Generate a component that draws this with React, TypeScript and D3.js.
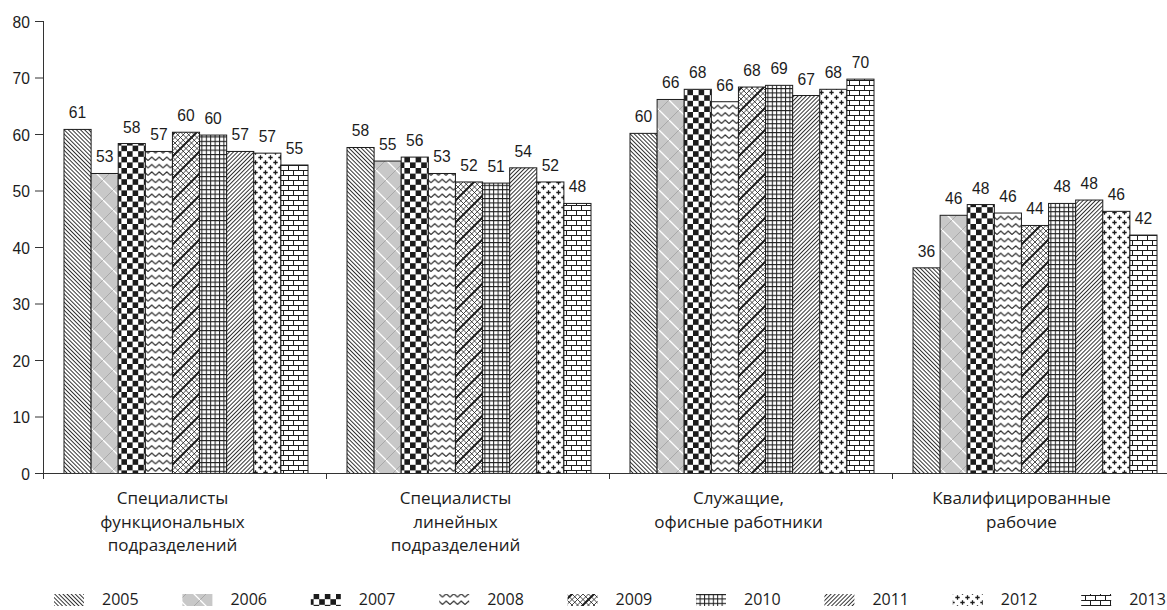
import React from "react";
import * as d3 from "d3";

// Share of respondents by staff group, per survey year
const years = ["2005", "2006", "2007", "2008", "2009", "2010", "2011", "2012", "2013"];
const categoryLines = [
  ["Специалисты", "функциональных", "подразделений"],
  ["Специалисты", "линейных", "подразделений"],
  ["Служащие,", "офисные работники"],
  ["Квалифицированные", "рабочие"],
];
const functionalSpecialists = [60.9, 53.1, 58.4, 57.0, 60.4, 59.9, 57.0, 56.7, 54.6];
const lineSpecialists = [57.7, 55.3, 56.0, 53.1, 51.6, 51.4, 54.1, 51.6, 47.8];
const officeEmployees = [60.2, 66.2, 68.0, 65.8, 68.4, 68.7, 66.9, 68.0, 69.8];
const skilledWorkers = [36.4, 45.7, 47.6, 46.1, 43.9, 47.8, 48.4, 46.4, 42.2];
const yTicks = [0, 10, 20, 30, 40, 50, 60, 70, 80];

const seriesByCategory = [functionalSpecialists, lineSpecialists, officeEmployees, skilledWorkers];

const W = 1167;
const H = 610;
const INK = "#1c1c1c";
const NUM_FONT = "'Liberation Sans', Arial, sans-serif";
const TXT_FONT = "'Open Sans', 'Noto Sans', sans-serif";
const NUM_SQUEEZE = 0.92;

// diagonal line families inside a square tile, seamless when size is a multiple of step
function diagLines(size: number, step: number, dir: "back" | "fwd") {
  const out: string[] = [];
  if (dir === "back") {
    for (let c = -size; c <= size; c += step) out.push(`M${c},0L${c + size},${size}`);
  } else {
    for (let c = 0; c <= 2 * size; c += step) out.push(`M${c},0L${c - size},${size}`);
  }
  return out.join("");
}

function Patterns() {
  const t2006 = 20;
  const t2009 = 22;
  return (
    <defs>
      <pattern id="p2005" patternUnits="userSpaceOnUse" width={2.9} height={10} patternTransform="rotate(-45)">
        <rect width={2.9} height={10} fill="#fff" />
        <line x1={1.45} y1={0} x2={1.45} y2={10} stroke={INK} strokeWidth={0.9} />
      </pattern>
      <pattern id="p2006" patternUnits="userSpaceOnUse" width={t2006} height={t2006}>
        <rect width={t2006} height={t2006} fill="#e9e9e9" />
        <path d={diagLines(t2006, 2, "back") + diagLines(t2006, 2, "fwd")} stroke="#a6a6a6" strokeWidth={0.5} fill="none" />
        <path d={`M0,0L${t2006},${t2006}M-2,${t2006 - 2}L2,${t2006 + 2}M${t2006 - 2},-2L${t2006 + 2},2`} stroke="#fff" strokeWidth={1.3} />
        <path d={`M${t2006},0L0,${t2006}M-2,2L2,-2M${t2006 - 2},${t2006 + 2}L${t2006 + 2},${t2006 - 2}`} stroke="#888" strokeWidth={0.5} />
      </pattern>
      <pattern id="p2007" patternUnits="userSpaceOnUse" width={11.2} height={11.2}>
        <rect width={11.2} height={11.2} fill="#fff" />
        <rect width={5.6} height={5.6} fill={INK} />
        <rect x={5.6} y={5.6} width={5.6} height={5.6} fill={INK} />
      </pattern>
      <pattern id="p2008" patternUnits="userSpaceOnUse" width={7.5} height={7.4}>
        <rect width={7.5} height={7.4} fill="#fff" />
        <path d="M0,5.2L3.75,1.6L7.5,5.2" stroke={INK} strokeWidth={1.1} fill="none" />
      </pattern>
      <pattern id="p2009" patternUnits="userSpaceOnUse" width={t2009} height={t2009}>
        <rect width={t2009} height={t2009} fill="#fff" />
        <path d={diagLines(t2009, 5.5, "back") + diagLines(t2009, 5.5, "fwd")} stroke={INK} strokeWidth={0.8} fill="none" />
        <path d={`M${t2009},0L0,${t2009}M-3,3L3,-3M${t2009 - 3},${t2009 + 3}L${t2009 + 3},${t2009 - 3}`} stroke={INK} strokeWidth={2} />
      </pattern>
      <pattern id="p2010" patternUnits="userSpaceOnUse" width={4.4} height={4.4}>
        <rect width={4.4} height={4.4} fill="#fff" />
        <path d="M0.5,0V4.4M0,0.5H4.4" stroke={INK} strokeWidth={1} fill="none" />
      </pattern>
      <pattern id="p2011" patternUnits="userSpaceOnUse" width={2.9} height={10} patternTransform="rotate(45)">
        <rect width={2.9} height={10} fill="#fff" />
        <line x1={1.45} y1={0} x2={1.45} y2={10} stroke={INK} strokeWidth={0.9} />
      </pattern>
      <pattern id="p2012" patternUnits="userSpaceOnUse" width={10} height={10}>
        <rect width={10} height={10} fill="#fff" />
        <path d="M2.5,0.3V4.7M0.3,2.5H4.7M7.5,5.3V9.7M5.3,7.5H9.7" stroke={INK} strokeWidth={1.3} fill="none" />
      </pattern>
      <pattern id="p2013" patternUnits="userSpaceOnUse" width={10} height={10}>
        <rect width={10} height={10} fill="#fff" />
        <path d="M0,0.5H10M0,5.5H10M0.5,0.5V5.5M5.5,5.5V10" stroke={INK} strokeWidth={1} fill="none" />
      </pattern>
    </defs>
  );
}

function Num({ x, y, anchor, children }: { x: number; y: number; anchor: string; children: React.ReactNode }) {
  return (
    <text
      transform={`translate(${x},${y}) scale(${NUM_SQUEEZE},1)`}
      textAnchor={anchor}
      fontFamily={NUM_FONT}
      fontSize={17}
      fill={INK}
    >
      {children}
    </text>
  );
}

export default function App() {
  const x0 = d3.scaleBand<number>().domain(d3.range(categoryLines.length)).range([43, 1175]);
  const x1 = d3.scaleBand<string>().domain(years).range([21, 265]);
  const y = d3.scaleLinear().domain([0, 80]).range([473.5, 21.5]);
  const fmt = d3.format(".0f");
  const axisBottom = y(0);

  return (
    <svg width={W} height={H} style={{ position: "absolute", left: 0, top: 0, background: "#fff" }}>
      <Patterns />
      <rect width={W} height={H} fill="#fff" />

      {/* bars */}
      {seriesByCategory.map((vals, ci) => (
        <g key={ci} transform={`translate(${x0(ci)},0)`}>
          {vals.map((v, yi) => (
            <rect
              key={yi}
              x={x1(years[yi])}
              y={y(v)}
              width={x1.bandwidth()}
              height={axisBottom - y(v)}
              fill={`url(#p${years[yi]})`}
              stroke={INK}
              strokeWidth={1}
            />
          ))}
          {vals.map((v, yi) => (
            <Num key={"l" + yi} x={(x1(years[yi]) as number) + x1.bandwidth() / 2} y={y(v) - 11} anchor="middle">
              {fmt(v)}
            </Num>
          ))}
        </g>
      ))}

      {/* y axis */}
      <line x1={43.5} x2={43.5} y1={21} y2={479} stroke="#333" strokeWidth={1} />
      {yTicks.map((t) => (
        <g key={t}>
          <line x1={35} x2={43.5} y1={y(t)} y2={y(t)} stroke="#333" strokeWidth={1} />
          <Num x={30} y={y(t) + 6} anchor="end">
            {t}
          </Num>
        </g>
      ))}

      {/* x axis */}
      <line x1={43.5} x2={1175} y1={axisBottom} y2={axisBottom} stroke="#333" strokeWidth={1} />
      {categoryLines.map((_, ci) => {
        const bx = Math.round(x0(ci) as number) + 0.5;
        return <line key={ci} x1={bx} x2={bx} y1={axisBottom} y2={479} stroke="#333" strokeWidth={1} />;
      })}
      {categoryLines.map((lines, ci) => (
        <text
          key={ci}
          x={(x0(ci) as number) + x0.bandwidth() / 2 - 12}
          y={504}
          textAnchor="middle"
          fontFamily={TXT_FONT}
          fontSize={17}
          fill={INK}
        >
          {lines.map((ln, li) => (
            <tspan key={li} x={(x0(ci) as number) + x0.bandwidth() / 2 - 12} dy={li === 0 ? 0 : 23.5}>
              {ln}
            </tspan>
          ))}
        </text>
      ))}

      {/* legend */}
      {years.map((yr, i) => {
        const lx = 54 + i * 128.4;
        return (
          <g key={yr}>
            <rect x={lx} y={594} width={30} height={12} fill={`url(#p${yr})`} />
            <text x={lx + 48} y={605} fontFamily={TXT_FONT} fontSize={16} fill={INK}>
              {yr}
            </text>
          </g>
        );
      })}
    </svg>
  );
}
